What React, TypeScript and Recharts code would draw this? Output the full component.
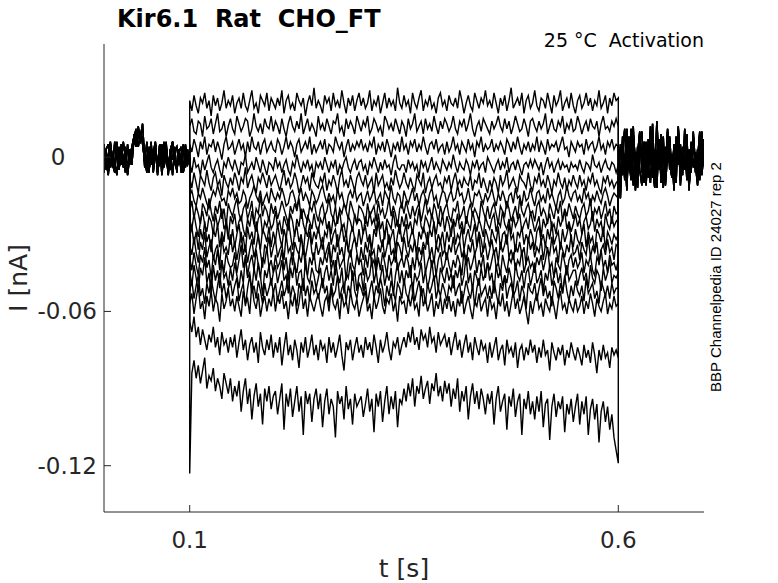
import { LineChart, Line, XAxis, YAxis } from "recharts";

// current in pA (axis labels show nA), sampled every 2.5 ms
const DT = 0.0025;
const STEP_ON = 0.1;
const STEP_OFF = 0.6;

const xTicks = [0.1, 0.6];
const yTicks = [-120, -60, 0];

// holding segments 0 .. 0.1 s
const hold1 = [3, -5, 1, 6, -3, -6, 4, -1, 5, -4, 2, -7, 0, 4, 8, 11, 7, 10, 5, -2, 6, -5, 1, -3, 5, -6, 2, -4, 6, -1, -5, 3, -7, 2, 4, -3, 1, -6, 5, -2, -1];
const hold2 = [-4, 2, -6, 5, 0, -3, 6, -5, 2, -2, 4, -6, 3, -1, 9, 5, 12, 6, 8, -4, 1, -6, 4, -2, 3, -7, 5, 0, -3, 6, -5, 2, -1, 4, -6, 3, -2, 5, -4, 1, 2];
const hold3 = [5, -2, -7, 3, -4, 6, 1, -5, 4, -1, -6, 5, -3, 2, 6, 10, 4, 9, 7, 3, -5, -1, 6, -6, 2, -3, 5, -7, 1, 4, -2, -5, 6, 0, -4, 3, -6, 4, -1, -3, 0];
const hold4 = [-6, 3, 5, -4, 1, -2, -7, 4, -3, 6, 0, -5, 3, -3, 7, 4, 11, 8, 13, -1, -6, 4, -3, 2, 6, -5, -2, 5, -4, 1, -7, 3, 6, -2, -5, 2, 4, -6, 0, 3, -2];

// tail segments 0.6 .. 0.7 s
const tail1 = [-12, -16, 5, -9, 8, -3, 11, -11, 2, -6, 9, -1, -10, 6, -4, 12, -8, 3, -12, 7, -2, 4, -9, 10, -5, 1, -13, 8, -3, 5, -7, 11, -1, -10, 6, -4, 2, -8, 9, -6, 3];
const tail2 = [4, -10, 8, -5, 11, -2, -9, 6, -13, 1, 10, -6, 3, -11, 7, -3, 13, -8, 0, -5, 9, -12, 4, -2, 8, -7, 2, -10, 12, -4, -1, 6, -9, 3, -6, 10, -3, -11, 5, -1, 7];
const tail3 = [-14, -7, 3, 11, -9, 2, -6, 9, -1, -12, 5, 10, -7, 3, -4, -10, 7, -5, 14, -2, -6, 8, -11, 1, 6, -8, 4, -3, 11, -9, 0, -5, 9, -12, 3, 7, -4, -1, 10, -7, 2];
const tail4 = [-9, 5, -7, 1, -13, 8, -3, 12, -9, 4, -5, -11, 6, 0, -8, 9, -4, -12, 2, 6, -10, 3, -6, 11, -2, -8, 5, -1, 9, -11, 4, -4, 7, -13, 1, 8, -6, 3, -9, 10, -3];

// pulse segments 0.1 .. 0.6 s, one per voltage step
const pulseA = [
  22, 18, 24, 20, 17, 23, 21, 25, 19, 22, 16, 24, 20, 23, 18, 21, 26, 19, 22, 20,
  24, 17, 21, 23, 19, 25, 20, 18, 22, 26, 19, 21, 17, 24, 22, 20, 25, 18, 23, 21,
  19, 23, 20, 26, 17, 22, 24, 19, 21, 18, 25, 22, 20, 23, 16, 21, 24, 20, 27, 19,
  22, 20, 17, 24, 21, 23, 18, 25, 20, 22, 19, 26, 21, 17, 23, 20, 24, 18, 22, 25,
  20, 23, 19, 21, 26, 18, 22, 20, 24, 17, 21, 25, 19, 23, 20, 22, 18, 27, 21, 19,
  24, 20, 22, 17, 25, 21, 19, 23, 26, 18, 22, 20, 24, 19, 21, 17, 23, 25, 20, 22,
  18, 24, 21, 20, 23, 19, 26, 22, 17, 21, 24, 20, 18, 25, 22, 19, 23, 21, 26, 20,
  22, 19, 25, 21, 17, 23, 20, 24, 18, 22, 27, 19, 21, 23, 20, 25, 17, 22, 24, 19,
  21, 26, 20, 18, 23, 22, 19, 25, 21, 17, 24, 20, 22, 26, 18, 21, 23, 19, 25, 20,
  17, 22, 24, 19, 21, 25, 20, 23, 18, 22, 20, 26, 19, 21, 24, 17, 23, 20, 25, 22, 23,
];
const pulseB = [
  12, 15, 10, 9, 14, 13, 8, 16, 11, 12, 15, 9, 13, 17, 10, 11, 14, 8, 12, 15,
  11, 9, 16, 13, 10, 12, 15, 14, 8, 11, 17, 12, 10, 13, 9, 15, 12, 11, 16, 10,
  14, 12, 9, 15, 11, 8, 13, 16, 12, 10, 14, 11, 17, 9, 12, 15, 10, 13, 11, 8,
  16, 11, 13, 10, 15, 12, 9, 14, 13, 17, 10, 12, 8, 15, 11, 14, 12, 9, 16, 13,
  10, 14, 12, 16, 9, 11, 15, 13, 10, 12, 8, 16, 14, 11, 13, 10, 15, 12, 9, 14,
  12, 8, 15, 11, 13, 17, 10, 12, 14, 9, 15, 11, 13, 10, 16, 12, 9, 14, 11, 15,
  13, 10, 12, 16, 11, 9, 14, 12, 15, 10, 13, 17, 11, 8, 12, 14, 10, 15, 13, 11,
  9, 14, 11, 13, 16, 12, 10, 15, 11, 14, 9, 12, 16, 13, 10, 11, 15, 12, 8, 14,
  15, 12, 10, 14, 11, 13, 17, 9, 12, 15, 11, 10, 14, 12, 16, 9, 13, 11, 15, 10,
  11, 16, 13, 9, 12, 14, 10, 15, 12, 11, 14, 8, 13, 16, 11, 12, 10, 14, 12, 15, 12,
];
const pulseC = [
  5, 2, 7, 4, 0, 6, 3, 8, 1, 5, 4, 7, 2, 6, 3, -1, 5, 8, 3, 4,
  6, 1, 4, 7, 3, 5, 0, 6, 2, 8, 4, 3, 6, 1, 5, 7, 2, 4, 6, 3,
  2, 7, 5, 1, 4, 8, 3, 6, 4, 0, 5, 7, 2, 4, 6, 3, 8, 1, 5, 2,
  4, 6, 3, 7, 1, 5, 4, 2, 8, 5, 3, 6, 0, 4, 7, 2, 5, 3, 6, 4,
  7, 3, 5, 2, 6, 4, 8, 1, 5, 3, 6, 2, 7, 4, 0, 5, 3, 6, 2, 8,
  3, 5, 1, 6, 4, 7, 2, 5, 3, 8, 4, 1, 5, 6, 3, 7, 2, 4, 5, 1,
  6, 2, 4, 8, 3, 5, 1, 6, 4, 2, 7, 3, 5, 0, 6, 4, 8, 2, 5, 3,
  4, 7, 2, 5, 3, 6, 4, 1, 7, 5, 2, 6, 3, 8, 4, 1, 5, 3, 6, 2,
  5, 3, 8, 2, 6, 4, 1, 7, 3, 5, 4, 6, 2, 5, 8, 3, 4, 0, 6, 4,
  2, 6, 4, 5, 1, 7, 3, 5, 6, 2, 4, 8, 3, 5, 1, 6, 4, 7, 3, 5, 4,
];
const pulseD = [
  -2, -6, 0, -4, -3, -7, -1, -5, -2, 1, -4, -6, -3, -1, -5, -8, -2, -4, 0, -3,
  -5, -1, -4, -7, -2, -3, 1, -6, -4, -2, -5, 0, -3, -6, -1, -4, -7, -2, -3, -5,
  0, -4, -2, -6, -3, -1, -5, -7, -2, -4, 1, -3, -6, -2, -4, -1, -5, -3, -8, -2,
  -4, -2, -5, 0, -3, -6, -2, -4, -1, -7, -3, -5, -2, 0, -4, -6, -3, -1, -5, -2,
  -1, -5, -3, -7, -2, -4, 0, -3, -6, -2, -5, -1, -4, -3, -7, -2, 1, -4, -5, -3,
  -3, -6, -1, -4, -2, -5, -3, -8, -1, -4, -2, -6, -3, 0, -5, -2, -4, -6, -1, -3,
  -5, -2, -4, 1, -3, -6, -2, -4, -5, -1, -3, -7, -2, -4, -1, -5, -3, -2, -6, 0,
  -2, -4, -6, -3, -1, -5, -2, -4, 0, -6, -3, -2, -5, -1, -4, -7, -3, -2, -4, -1,
  -4, -1, -3, -5, -2, -7, -3, 0, -4, -2, -6, -3, -1, -5, -2, -4, -3, -6, -2, -4,
  -3, -5, -1, -4, -6, -2, -3, -5, 1, -3, -4, -2, -6, -3, -1, -4, -5, -2, -3, -6, -3,
];
const pulseE = [
  -8, -12, -6, -10, -14, -7, -9, -11, -5, -10, -13, -8, -6, -11, -9, -15, -7, -10, -12, -8,
  -11, -6, -9, -13, -8, -10, -4, -12, -9, -7, -11, -14, -8, -10, -6, -9, -12, -7, -11, -9,
  -7, -10, -13, -9, -5, -11, -8, -12, -10, -6, -9, -14, -11, -7, -10, -8, -13, -6, -9, -11,
  -12, -8, -10, -6, -13, -9, -11, -7, -10, -14, -8, -5, -11, -9, -12, -7, -10, -13, -8, -6,
  -9, -11, -7, -12, -10, -8, -14, -6, -11, -9, -7, -12, -10, -13, -8, -11, -5, -9, -12, -10,
  -6, -10, -12, -8, -11, -13, -7, -9, -11, -6, -14, -10, -8, -12, -9, -7, -11, -10, -13, -8,
  -10, -7, -13, -9, -6, -11, -9, -12, -8, -10, -11, -7, -13, -9, -10, -6, -12, -8, -11, -14,
  -9, -12, -8, -10, -14, -7, -11, -9, -5, -12, -10, -8, -11, -13, -7, -9, -10, -12, -6, -11,
  -13, -8, -10, -6, -11, -9, -12, -7, -10, -14, -9, -11, -6, -10, -12, -8, -13, -9, -11, -7,
  -10, -12, -7, -11, -9, -13, -8, -10, -6, -11, -9, -12, -14, -8, -10, -7, -11, -9, -12, -10, -9,
];
const pulseF = [
  -15, -13, -17, -19, -14, -16, -12, -15, -18, -20, -16, -13, -15, -11, -14, -17, -16, -19, -13, -15,
  -12, -16, -14, -18, -17, -13, -15, -20, -16, -14, -11, -15, -17, -13, -19, -16, -14, -18, -12, -15,
  -17, -14, -16, -12, -15, -19, -18, -14, -13, -16, -20, -15, -12, -17, -14, -16, -19, -13, -15, -18,
  -16, -13, -11, -15, -18, -14, -17, -15, -19, -12, -16, -14, -18, -20, -15, -13, -16, -12, -17, -15,
  -14, -19, -16, -13, -17, -15, -12, -18, -16, -14, -19, -13, -15, -17, -11, -16, -18, -14, -15, -20,
  -13, -16, -18, -15, -12, -17, -14, -19, -15, -13, -16, -18, -14, -12, -17, -15, -20, -16, -13, -14,
  -18, -15, -13, -17, -16, -11, -15, -14, -18, -16, -12, -17, -19, -14, -15, -13, -16, -18, -14, -17,
  -15, -12, -16, -19, -14, -17, -13, -16, -20, -15, -14, -18, -12, -16, -15, -19, -13, -17, -16, -12,
  -16, -19, -14, -13, -17, -15, -18, -12, -16, -14, -17, -20, -15, -13, -18, -16, -11, -15, -17, -14,
  -13, -17, -15, -18, -12, -16, -14, -19, -15, -17, -13, -16, -18, -14, -12, -15, -19, -16, -14, -15, -16,
];
const pulseG = [
  -21, -17, -24, -19, -22, -26, -18, -20, -23, -16, -21, -25, -19, -22, -17, -24, -20, -27, -18, -21,
  -23, -19, -16, -22, -25, -20, -18, -24, -21, -17, -26, -20, -22, -15, -23, -19, -21, -25, -18, -22,
  -19, -24, -21, -17, -20, -23, -26, -19, -22, -18, -21, -16, -24, -20, -23, -25, -19, -21, -17, -22,
  -25, -20, -18, -23, -21, -16, -22, -24, -19, -26, -20, -22, -18, -21, -24, -17, -20, -23, -26, -19,
  -20, -22, -26, -18, -23, -21, -19, -25, -17, -22, -20, -24, -21, -16, -23, -19, -22, -27, -20, -18,
  -22, -17, -21, -24, -19, -23, -20, -18, -25, -21, -16, -22, -20, -24, -18, -21, -26, -19, -23, -20,
  -18, -23, -25, -20, -21, -17, -24, -22, -19, -26, -21, -18, -23, -20, -22, -25, -17, -21, -24, -19,
  -24, -20, -18, -22, -26, -19, -21, -23, -17, -20, -25, -22, -19, -24, -16, -21, -23, -20, -18, -22,
  -21, -25, -19, -17, -23, -20, -22, -26, -18, -21, -24, -19, -22, -17, -25, -20, -23, -18, -21, -24,
  -19, -22, -24, -20, -18, -23, -21, -16, -25, -20, -22, -19, -24, -21, -17, -23, -20, -26, -19, -22, -21,
];
const pulseH = [
  -24, -28, -22, -27, -31, -25, -21, -26, -29, -23, -25, -30, -22, -27, -24, -20, -28, -26, -32, -23,
  -26, -22, -29, -25, -23, -28, -31, -24, -27, -21, -26, -29, -24, -22, -30, -25, -27, -23, -28, -26,
  -21, -27, -25, -30, -23, -26, -28, -22, -25, -31, -24, -27, -20, -26, -29, -23, -25, -28, -22, -27,
  -29, -24, -26, -22, -28, -25, -30, -23, -27, -24, -21, -28, -26, -31, -23, -25, -29, -22, -26, -24,
  -25, -30, -23, -27, -21, -26, -24, -29, -22, -28, -25, -32, -24, -26, -28, -21, -27, -25, -30, -23,
  -27, -22, -28, -25, -30, -24, -26, -20, -27, -29, -23, -25, -28, -22, -26, -30, -24, -27, -22, -29,
  -23, -26, -31, -24, -27, -22, -28, -25, -30, -23, -26, -28, -21, -25, -29, -24, -27, -31, -23, -26,
  -28, -24, -22, -29, -25, -27, -21, -26, -28, -24, -30, -23, -27, -25, -22, -29, -26, -24, -28, -21,
  -25, -29, -26, -23, -31, -24, -27, -25, -22, -28, -26, -30, -23, -27, -24, -21, -28, -25, -29, -26,
  -22, -27, -24, -30, -25, -23, -28, -26, -21, -29, -24, -27, -25, -31, -22, -26, -28, -23, -27, -25, -24,
];
const pulseI = [
  -31, -27, -34, -29, -36, -28, -32, -25, -33, -30, -37, -28, -31, -26, -35, -29, -33, -24, -30, -34,
  -28, -35, -30, -26, -33, -31, -37, -27, -32, -29, -34, -25, -31, -36, -28, -30, -33, -27, -35, -29,
  -33, -26, -31, -35, -28, -32, -24, -30, -36, -29, -27, -33, -30, -38, -28, -31, -26, -34, -29, -32,
  -27, -32, -36, -29, -31, -25, -34, -30, -28, -35, -31, -26, -33, -29, -37, -30, -27, -32, -35, -28,
  -34, -29, -27, -33, -30, -36, -28, -31, -25, -32, -35, -29, -27, -34, -31, -28, -36, -30, -26, -33,
  -30, -26, -35, -31, -28, -33, -37, -29, -32, -27, -30, -34, -28, -31, -25, -35, -30, -33, -29, -36,
  -29, -33, -28, -25, -34, -30, -32, -27, -36, -31, -28, -33, -30, -26, -35, -29, -32, -37, -28, -31,
  -35, -28, -31, -33, -27, -36, -30, -29, -34, -26, -32, -30, -37, -29, -31, -27, -34, -30, -33, -28,
  -31, -36, -29, -27, -33, -30, -35, -28, -32, -25, -34, -31, -29, -36, -28, -33, -30, -26, -32, -35,
  -28, -32, -34, -30, -26, -35, -29, -33, -31, -37, -28, -30, -33, -27, -36, -29, -31, -34, -30, -32, -30,
];
const pulseJ = [
  -34, -38, -31, -37, -41, -33, -36, -29, -39, -35, -32, -40, -36, -34, -42, -31, -37, -35, -38, -30,
  -37, -33, -40, -35, -29, -38, -34, -41, -36, -32, -39, -35, -30, -37, -43, -34, -36, -31, -39, -35,
  -32, -39, -36, -34, -40, -30, -37, -35, -42, -33, -36, -38, -31, -35, -39, -34, -29, -37, -40, -33,
  -38, -35, -31, -39, -36, -33, -41, -34, -37, -30, -38, -35, -40, -32, -36, -39, -34, -31, -37, -42,
  -35, -40, -33, -37, -31, -38, -36, -43, -34, -37, -32, -39, -35, -30, -38, -36, -41, -33, -35, -39,
  -31, -36, -39, -34, -37, -32, -40, -35, -38, -33, -36, -29, -39, -35, -41, -34, -37, -32, -38, -36,
  -40, -34, -37, -31, -38, -35, -33, -39, -36, -42, -34, -37, -32, -38, -35, -30, -39, -36, -34, -40,
  -36, -32, -38, -35, -41, -33, -37, -34, -30, -39, -36, -40, -34, -37, -33, -38, -35, -42, -31, -36,
  -33, -39, -35, -37, -32, -40, -34, -36, -38, -31, -37, -35, -41, -33, -36, -39, -34, -37, -30, -38,
  -37, -34, -40, -33, -36, -38, -31, -39, -35, -37, -33, -42, -36, -34, -38, -32, -37, -35, -40, -34, -35,
];
const pulseK = [
  -39, -44, -37, -42, -46, -38, -41, -35, -43, -40, -47, -38, -42, -36, -44, -40, -45, -37, -41, -43,
  -42, -37, -45, -40, -34, -43, -39, -46, -41, -38, -44, -36, -42, -47, -39, -41, -35, -43, -40, -45,
  -38, -43, -41, -36, -44, -39, -47, -40, -37, -42, -45, -38, -41, -35, -43, -46, -39, -42, -37, -44,
  -45, -39, -42, -38, -41, -35, -44, -40, -46, -37, -43, -41, -39, -48, -40, -36, -42, -44, -38, -41,
  -40, -46, -38, -43, -36, -42, -40, -45, -39, -44, -37, -41, -46, -38, -42, -40, -35, -44, -41, -39,
  -43, -38, -41, -47, -39, -44, -37, -42, -40, -35, -45, -41, -38, -43, -39, -46, -40, -37, -44, -42,
  -37, -42, -45, -40, -43, -38, -41, -46, -36, -42, -39, -44, -41, -37, -45, -40, -43, -38, -47, -41,
  -44, -40, -36, -43, -41, -46, -38, -42, -45, -39, -41, -37, -44, -40, -42, -36, -45, -41, -39, -43,
  -41, -45, -39, -42, -38, -44, -40, -35, -43, -41, -47, -39, -42, -44, -37, -41, -46, -40, -38, -43,
  -39, -43, -41, -37, -45, -40, -42, -38, -44, -46, -39, -41, -36, -43, -40, -45, -38, -42, -41, -44, -40,
];
const pulseL = [
  -44, -50, -42, -47, -52, -43, -46, -39, -49, -45, -53, -42, -48, -44, -51, -40, -47, -45, -50, -43,
  -48, -41, -46, -51, -44, -49, -38, -47, -45, -52, -43, -48, -41, -46, -54, -44, -47, -42, -50, -45,
  -42, -49, -45, -40, -48, -46, -53, -43, -47, -41, -50, -45, -44, -52, -39, -47, -49, -43, -46, -51,
  -47, -43, -51, -45, -42, -48, -44, -50, -40, -46, -49, -43, -53, -45, -47, -41, -48, -44, -52, -46,
  -45, -52, -43, -48, -46, -39, -49, -44, -51, -47, -42, -50, -45, -48, -43, -54, -46, -41, -49, -44,
  -50, -44, -47, -42, -53, -45, -48, -46, -41, -49, -44, -51, -47, -40, -48, -45, -52, -43, -46, -49,
  -43, -48, -45, -51, -44, -47, -42, -50, -46, -38, -49, -45, -52, -44, -47, -50, -43, -48, -45, -41,
  -48, -45, -53, -42, -47, -44, -50, -46, -49, -43, -47, -52, -41, -46, -48, -44, -51, -45, -43, -50,
  -46, -41, -49, -47, -44, -52, -45, -48, -42, -50, -46, -43, -49, -45, -53, -47, -42, -48, -46, -44,
  -44, -50, -46, -43, -48, -45, -51, -42, -47, -49, -44, -46, -52, -43, -48, -45, -40, -49, -46, -47, -45,
];
const pulseM = [
  -52, -48, -55, -50, -46, -54, -51, -57, -49, -53, -47, -52, -56, -50, -45, -53, -49, -55, -51, -48,
  -54, -50, -47, -56, -52, -49, -58, -51, -46, -53, -50, -55, -48, -52, -57, -49, -54, -51, -47, -53,
  -49, -56, -52, -48, -54, -51, -45, -55, -50, -53, -58, -49, -52, -47, -54, -50, -56, -48, -53, -51,
  -55, -51, -47, -53, -50, -57, -49, -54, -52, -46, -55, -51, -49, -56, -50, -53, -44, -52, -55, -49,
  -51, -54, -49, -57, -52, -48, -55, -50, -53, -47, -51, -58, -50, -54, -48, -52, -56, -49, -51, -55,
  -47, -53, -55, -50, -49, -56, -52, -48, -54, -51, -57, -49, -53, -50, -46, -55, -51, -54, -49, -52,
  -56, -50, -52, -46, -54, -51, -49, -57, -53, -48, -52, -55, -50, -58, -51, -47, -54, -52, -50, -55,
  -50, -55, -48, -53, -57, -49, -52, -46, -55, -51, -49, -54, -52, -48, -56, -50, -53, -59, -49, -52,
  -53, -49, -56, -51, -47, -54, -50, -55, -52, -58, -48, -51, -55, -49, -53, -46, -52, -56, -50, -54,
  -48, -52, -54, -50, -56, -47, -53, -51, -49, -55, -52, -57, -48, -51, -54, -50, -55, -49, -53, -51, -51,
];
const pulseN = [
  -57, -53, -61, -55, -50, -59, -56, -63, -54, -58, -52, -60, -55, -57, -64, -53, -59, -56, -51, -58,
  -55, -60, -54, -58, -62, -52, -57, -55, -61, -49, -56, -59, -53, -62, -57, -54, -60, -55, -58, -52,
  -60, -54, -57, -52, -59, -56, -63, -55, -58, -53, -61, -57, -50, -59, -55, -62, -54, -57, -60, -56,
  -53, -58, -62, -56, -54, -60, -51, -57, -59, -55, -63, -53, -58, -56, -61, -52, -57, -59, -55, -62,
  -58, -55, -52, -60, -57, -63, -54, -59, -56, -51, -58, -61, -55, -57, -53, -60, -56, -64, -54, -57,
  -56, -61, -54, -58, -53, -59, -57, -62, -50, -58, -55, -60, -57, -53, -62, -56, -59, -54, -61, -55,
  -59, -54, -60, -56, -62, -55, -58, -52, -61, -57, -54, -59, -63, -56, -58, -53, -60, -57, -55, -62,
  -54, -59, -57, -63, -55, -58, -53, -60, -56, -62, -57, -52, -59, -55, -61, -58, -54, -60, -65, -56,
  -61, -56, -53, -59, -57, -62, -55, -58, -60, -54, -58, -63, -56, -52, -59, -57, -61, -55, -58, -60,
  -55, -60, -58, -54, -61, -56, -59, -53, -57, -62, -55, -58, -60, -56, -53, -61, -57, -59, -54, -58, -57,
];
const pulseO = [
  -64, -68, -62, -70, -66, -73, -67, -71, -75, -69, -72, -66, -74, -70, -77, -68, -73, -71, -76, -70,
  -74, -69, -78, -72, -67, -75, -71, -79, -73, -70, -76, -72, -80, -68, -74, -77, -71, -75, -69, -78,
  -72, -76, -70, -81, -74, -68, -77, -73, -79, -71, -75, -82, -72, -76, -70, -78, -74, -69, -77, -73,
  -79, -71, -75, -73, -80, -70, -76, -72, -78, -74, -69, -77, -83, -72, -75, -71, -79, -74, -70, -76,
  -73, -78, -70, -75, -72, -77, -69, -74, -80, -71, -76, -73, -68, -75, -79, -72, -74, -70, -77, -73,
  -70, -74, -68, -72, -66, -73, -70, -75, -67, -71, -69, -74, -66, -72, -70, -76, -68, -73, -71, -69,
  -74, -70, -77, -72, -68, -75, -71, -78, -73, -69, -76, -72, -79, -70, -74, -77, -71, -75, -73, -80,
  -72, -78, -74, -70, -79, -75, -73, -81, -71, -76, -74, -78, -72, -82, -75, -73, -79, -74, -77, -71,
  -76, -73, -80, -74, -78, -71, -77, -75, -83, -72, -76, -79, -74, -77, -73, -81, -75, -78, -72, -76,
  -79, -74, -77, -81, -73, -78, -75, -80, -72, -77, -84, -75, -79, -73, -78, -76, -82, -74, -77, -75, -78,
];
const pulseP = [
  -123, -84, -79, -86, -81, -88, -83, -78, -90, -85, -87, -82, -91, -86, -89, -94, -84, -88, -92, -86,
  -95, -89, -93, -87, -99, -91, -86, -96, -90, -102, -93, -88, -97, -92, -104, -90, -95, -89, -98, -93,
  -91, -100, -94, -88, -106, -92, -97, -90, -101, -95, -89, -99, -93, -108, -91, -96, -92, -103, -94, -90,
  -98, -92, -105, -95, -90, -100, -94, -97, -109, -91, -96, -93, -102, -89, -98, -94, -104, -92, -97, -95,
  -93, -101, -96, -90, -99, -94, -107, -92, -97, -91, -103, -95, -89, -100, -93, -98, -91, -105, -94, -96,
  -90, -95, -88, -93, -86, -97, -89, -92, -85, -94, -90, -87, -96, -88, -91, -84, -93, -89, -95, -87,
  -92, -88, -97, -90, -94, -86, -99, -91, -95, -89, -102, -93, -88, -96, -91, -98, -90, -94, -100, -92,
  -96, -91, -104, -94, -89, -99, -95, -92, -106, -93, -97, -90, -101, -95, -92, -108, -94, -98, -91, -100,
  -95, -102, -93, -99, -91, -105, -96, -94, -110, -97, -92, -101, -95, -98, -93, -107, -96, -100, -94, -103,
  -97, -92, -104, -95, -100, -93, -108, -98, -94, -102, -96, -111, -99, -95, -103, -97, -106, -100, -109, -114, -119,
];

const holds = [hold1, hold2, hold3, hold4];
const tails = [tail1, tail2, tail3, tail4];
const pulses = [
  pulseA, pulseB, pulseC, pulseD, pulseE, pulseF, pulseG, pulseH,
  pulseI, pulseJ, pulseK, pulseL, pulseM, pulseN, pulseO, pulseP,
];

const traces = pulses.map((pulse, k) => [
  ...holds[k % 4].map((v, i) => ({ t: i * DT, v })),
  ...pulse.map((v, i) => ({ t: STEP_ON + i * DT, v })),
  ...tails[(k + 1) % 4].map((v, i) => ({ t: STEP_OFF + i * DT, v })),
]);

const AXIS = "#262626";
const FONT = "DejaVu Sans";

const fmtY = (v: number) => (v === 0 ? "0" : String(v / 1000));

const XTick = ({ x, y, payload }: any) => (
  <g>
    <line x1={x} y1={y} x2={x} y2={y - 7} stroke={AXIS} />
    <text x={x} y={y + 36} textAnchor="middle" fontFamily={FONT} fontSize={23} fill={AXIS}>
      {String(payload.value)}
    </text>
  </g>
);

const YTick = ({ x, y, payload }: any) => {
  const zero = payload.value === 0;
  return (
    <g>
      <line x1={x} y1={y} x2={x + 7} y2={y} stroke={AXIS} />
      <text
        x={zero ? x - 46 : x - 7}
        y={y + 8}
        textAnchor={zero ? "middle" : "end"}
        fontFamily={FONT}
        fontSize={23}
        fill={AXIS}
      >
        {fmtY(payload.value)}
      </text>
    </g>
  );
};

export default function App() {
  return (
    <div style={{ position: "absolute", left: 0, top: 0, width: 778, height: 583, background: "#fff" }}>
      <LineChart width={778} height={583} margin={{ top: 44, right: 74, bottom: 0, left: 44 }}>
        <XAxis
          type="number"
          dataKey="t"
          domain={[0, 0.7]}
          ticks={xTicks}
          tick={<XTick />}
          tickLine={false}
          tickSize={0}
          tickMargin={0}
          axisLine={{ stroke: AXIS }}
          allowDataOverflow
          height={71}
        />
        <YAxis
          type="number"
          dataKey="v"
          domain={[-138, 44]}
          ticks={yTicks}
          tick={<YTick />}
          tickLine={false}
          tickSize={0}
          tickMargin={0}
          axisLine={{ stroke: AXIS }}
          allowDataOverflow
          width={60}
        />
        {traces.map((d, k) => (
          <Line
            key={k}
            data={d}
            dataKey="v"
            type="linear"
            stroke="#000"
            strokeWidth={1.4}
            dot={false}
            activeDot={false}
            isAnimationActive={false}
          />
        ))}
      </LineChart>
      <svg
        width={778}
        height={583}
        style={{ position: "absolute", left: 0, top: 0, pointerEvents: "none" }}
      >
        <text x={117} y={27} fontFamily={FONT} fontWeight="bold" fontSize={24} fill="#000">
          {"Kir6.1\u00a0\u00a0Rat\u00a0\u00a0CHO_FT"}
        </text>
        <text x={704} y={47} textAnchor="end" fontFamily={FONT} fontSize={19} fill="#000">
          {"25 °C\u00a0\u00a0Activation"}
        </text>
        <text x={404} y={577} textAnchor="middle" fontFamily={FONT} fontSize={25} fill={AXIS}>
          t [s]
        </text>
        <text
          transform="translate(27,278) rotate(-90)"
          textAnchor="middle"
          fontFamily={FONT}
          fontSize={25}
          fill={AXIS}
        >
          I [nA]
        </text>
        <text
          transform="translate(721,277) rotate(-90)"
          textAnchor="middle"
          fontFamily="Liberation Sans"
          fontSize={15}
          fill="#000"
        >
          BBP Channelpedia ID 24027 rep 2
        </text>
      </svg>
    </div>
  );
}
